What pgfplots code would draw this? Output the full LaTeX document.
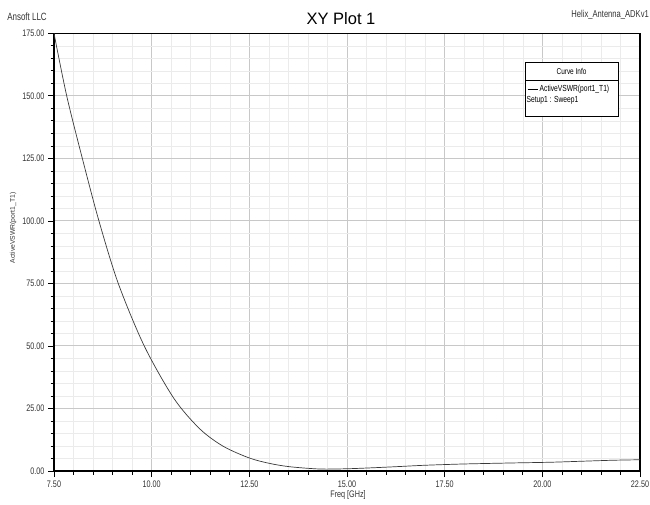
\documentclass[border=0pt]{standalone}
\usepackage{fontspec}
\setmainfont[FakeStretch=0.76]{Liberation Sans}
\newfontfamily\titlefont{Liberation Sans}
\usepackage{pgfplots}
\pgfplotsset{compat=1.18}
\definecolor{majgrid}{HTML}{C8C8C8}
\definecolor{mingrid}{HTML}{EBEBEB}
\definecolor{curve}{HTML}{3A3A3A}

\begin{document}
\begin{tikzpicture}
\begin{axis}[
  scale only axis,
  width=586pt, height=437.7pt,
  xmin=7.5, xmax=22.5, ymin=0, ymax=175,
  xtick distance=2.5, ytick distance=25,
  minor tick num=4,
  grid=both,
  major grid style={majgrid,line width=0.9pt},
  minor grid style={mingrid,line width=0.6pt},
  axis line style={black,line width=1.3pt},
  tick pos=left, tick align=outside,
  tick style={black,line width=0.7pt},
  major tick length=6pt, minor tick length=3.5pt,
  ticklabel style={font=\fontsize{9.5}{10}\selectfont,text=black!80},
  /pgf/number format/.cd, fixed, fixed zerofill, precision=2, assume math mode=true,
]
% ActiveVSWR(port1_T1)
\addplot[curve, line width=0.7pt, smooth, tension=0.5] coordinates {
  (7.5,175) (7.825,150) (8.225,125) (8.65,100) (9.145,75) (9.81,50)
  (10.57,29.0) (11.235,16.8) (11.83,9.9) (12.5,5.2)
  (13.03,3.0) (13.54,1.7) (14.3,0.8) (15.0,0.9) (15.67,1.3) (16.35,1.8)
  (17.0,2.3) (17.97,2.8) (19.17,3.2) (20.2,3.5) (21.0,3.9) (21.8,4.3) (22.5,4.5)
};
\coordinate (O) at (rel axis cs:0,0);
\end{axis}
\begin{scope}[shift={(O)}]
\begin{scope}[x=1pt, y=-1pt, shift={(-54,-471)}]
  \node[font=\fontsize{10.5}{11}\selectfont, text=black!80] at (27,16.5) {Ansoft LLC};
  \node[font=\titlefont\fontsize{16.5}{18}\selectfont] at (341,19) {XY Plot 1};
  \node[font=\fontsize{10}{11}\selectfont, text=black!80, anchor=east, inner sep=0pt] at (649,15) {Helix\_Antenna\_ADKv1};
  \node[font=\fontsize{9.5}{10}\selectfont, text=black!80] at (348,495) {Freq [GHz]};
  \node[font=\titlefont\fontsize{6.8}{7}\selectfont, text=black!80, rotate=90] at (13,228) {ActiveVSWR(port1\_T1)};
  % legend box
  \draw[black, line width=0.6pt, fill=white] (525,62.7) rectangle (618,116.7);
  \draw[black, line width=0.6pt] (525,80) -- (618,80);
  \node[font=\fontsize{8.5}{9}\selectfont] at (571.5,71.5) {Curve Info};
  \draw[black, line width=0.9pt] (527.5,89.3) -- (537.5,89.3);
  \node[font=\fontsize{8.8}{9}\selectfont, anchor=west, inner sep=0pt] at (539.5,89.3) {ActiveVSWR(port1\_T1)};
  \node[font=\fontsize{8.8}{9}\selectfont, anchor=west, inner sep=0pt] at (526.5,100.7) {Setup1 : Sweep1};
  \pgfresetboundingbox
  \path (0,0) rectangle (650,504);
\end{scope}
\end{scope}
\end{tikzpicture}
\end{document}
